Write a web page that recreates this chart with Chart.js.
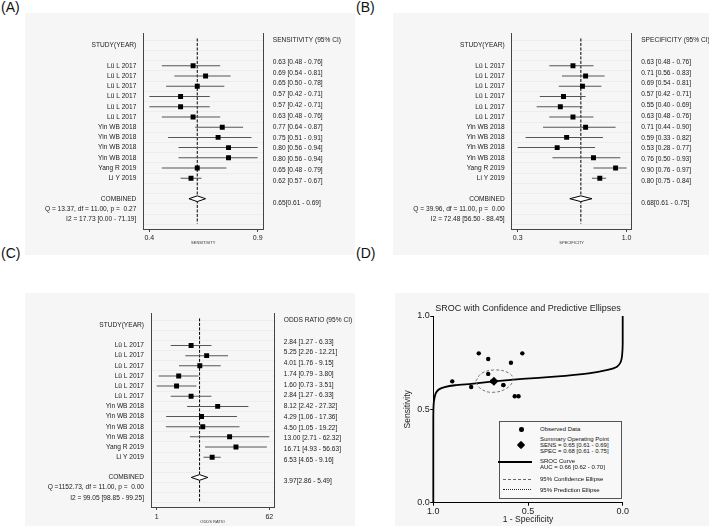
<!DOCTYPE html>
<html><head><meta charset="utf-8">
<script src="https://cdn.jsdelivr.net/npm/chart.js@4.4.0/dist/chart.umd.min.js"></script>
<style>
html,body{margin:0;padding:0;background:#fff;}
body{width:709px;height:526px;position:relative;overflow:hidden;font-family:"Liberation Sans",Arial,sans-serif;color:#111;}
.plab{position:absolute;font-size:14px;line-height:14px;color:#111;font-family:"Liberation Sans",Arial,sans-serif;}
canvas{position:absolute;background:#f6f6f6;}
.lg{position:absolute;font-size:6px;line-height:6px;color:#111;white-space:nowrap;font-family:"Liberation Sans",Arial,sans-serif;}
.mk{position:absolute;}
</style></head><body>
<div class="plab" style="left:1px;top:0px">(A)</div>
<div class="plab" style="left:356px;top:0px">(B)</div>
<div class="plab" style="left:1px;top:246px">(C)</div>
<div class="plab" style="left:356px;top:246px">(D)</div>
<canvas id="cA" width="330" height="242" style="left:25px;top:13px;width:330px;height:242px"></canvas>
<canvas id="cB" width="316" height="242" style="left:393px;top:13px;width:316px;height:242px"></canvas>
<canvas id="cC" width="330" height="233" style="left:25px;top:293px;width:330px;height:233px"></canvas>
<canvas id="cD" width="314" height="233" style="left:395px;top:293px;width:314px;height:233px"></canvas>

<div id="leg" style="position:absolute;left:499px;top:421px;width:121px;height:76px;border:1px solid #555;background:#f8f8f8;"></div>
<div class="mk" style="left:519px;top:427px;width:4.5px;height:4.5px;border-radius:50%;background:#000"></div>
<div class="lg" style="left:540px;top:426px">Observed Data</div>
<div class="mk" style="left:518px;top:441.5px;width:6px;height:6px;background:#000;transform:rotate(45deg);border-radius:1px"></div>
<div class="lg" style="left:540px;top:436px">Summary Operating Point<br>SENS = 0.65 [0.61 - 0.69]<br>SPEC = 0.68 [0.61 - 0.75]</div>
<div class="mk" style="left:498px;top:461px;width:34px;height:0;border-top:2px solid #000"></div>
<div class="lg" style="left:540px;top:457.5px">SROC Curve<br>AUC = 0.66 [0.62 - 0.70]</div>
<div class="mk" style="left:503px;top:478.5px;width:28px;height:0;border-top:1px dashed #666"></div>
<div class="lg" style="left:540px;top:476px">95% Confidence Ellipse</div>
<div class="mk" style="left:503px;top:489px;width:28px;height:0;border-top:1px dotted #222"></div>
<div class="lg" style="left:540px;top:486.7px">95% Prediction Ellipse</div>

<script>
// ---------- data ----------
const studies = ["Lü L 2017","Lü L 2017","Lü L 2017","Lü L 2017","Lü L 2017","Lü L 2017",
  "Yin WB 2018","Yin WB 2018","Yin WB 2018","Yin WB 2018","Yang R 2019","Li Y 2019"];
const sensEst = [0.63,0.69,0.65,0.57,0.57,0.63,0.77,0.75,0.80,0.80,0.65,0.62];
const sensLo  = [0.48,0.54,0.50,0.42,0.42,0.48,0.64,0.51,0.56,0.56,0.48,0.57];
const sensHi  = [0.76,0.81,0.78,0.71,0.71,0.76,0.87,0.91,0.94,0.94,0.79,0.67];
const specEst = [0.63,0.71,0.69,0.57,0.55,0.63,0.71,0.59,0.53,0.76,0.90,0.80];
const specLo  = [0.48,0.56,0.54,0.42,0.40,0.48,0.44,0.33,0.28,0.50,0.76,0.75];
const specHi  = [0.76,0.83,0.81,0.71,0.69,0.76,0.90,0.82,0.77,0.93,0.97,0.84];
const orEst   = [2.84,5.25,4.01,1.74,1.60,2.84,8.12,4.29,4.50,13.00,16.71,6.53];
const orLo    = [1.27,2.26,1.76,0.79,0.73,1.27,2.42,1.06,1.05,2.71,4.93,4.65];
const orHi    = [6.33,12.21,9.15,3.80,3.51,6.33,27.32,17.36,19.22,62.32,56.63,9.16];
const sensPooled = [0.65,0.61,0.69];
const specPooled = [0.68,0.61,0.75];
const orPooled   = [3.97,2.86,5.49];
const sensStats = ["Q = 13.37, df = 11.00, p =  0.27","I2 = 17.73 [0.00 - 71.19]"];
const specStats = ["Q = 39.96, df = 11.00, p =  0.00","I2 = 72.48 [56.50 - 88.45]"];
const orStats   = ["Q =1152.73, df = 11.00, p =  0.00","I2 = 99.05 [98.85 - 99.25]"];
const sensTickLabels = ["0.4","0.9"];
const specTickLabels = ["0.3","1.0"];
const orTickLabels   = ["1","62"];
const rocTicks = [0, 0.5, 1];
// SROC curve (specificity, sensitivity)
const srocSpec = [1.0,1.0,0.998,0.993,0.985,0.97,0.94,0.885,0.80,0.68,0.53,0.36,0.18,0.08,0.03,0.01,0.003,0.0,0.0];
const srocSens = [0.0,0.45,0.53,0.565,0.59,0.607,0.619,0.629,0.637,0.650,0.663,0.675,0.693,0.711,0.728,0.755,0.79,0.85,1.0];
// 95% confidence ellipse
const ellSpec = [0.776,0.745,0.674,0.604,0.578,0.612,0.692,0.753,0.776];
const ellSens = [0.651,0.693,0.711,0.696,0.661,0.613,0.591,0.613,0.651];

const FONT = "'Liberation Sans', Arial, sans-serif";
Chart.defaults.font.family = FONT;

function forest(id, o) {
  const leftLabels = ["STUDY(YEAR)", "", ...studies, "", "COMBINED", o.stats[0], o.stats[1]];
  const f = v => v.toFixed(2);
  const rightLabels = [o.header, "", ...o.est.map((e,i)=>`${f(e)} [${f(o.lo[i])} - ${f(o.hi[i])}]`), "",
    `${f(o.pooled[0])}[${f(o.pooled[1])} - ${f(o.pooled[2])}]`, "", ""];
  const tickVals = [Math.min(...o.lo), Math.max(...o.hi)];
  const combRow = 15, dh = 0.28;
  const rowTicks = s => { s.ticks = leftLabels.map((_, i) => ({value: i})); };
  new Chart(document.getElementById(id), {
    type: 'scatter',
    data: { datasets: [
      { type: 'scatter', data: o.est.map((e,i)=>({x:e, y:i+2})), pointStyle: 'rect', pointRadius: 3.5,
        backgroundColor: '#000', borderColor: '#000', borderWidth: 0, order: 0 },
      { type: 'line', data: [{x:o.pooled[1],y:combRow},{x:o.pooled[0],y:combRow-dh},{x:o.pooled[2],y:combRow},{x:o.pooled[0],y:combRow+dh},{x:o.pooled[1],y:combRow}],
        borderColor: '#000', borderWidth: 1, backgroundColor: '#fff', fill: 'shape', pointRadius: 0, tension: 0, order: 1 },
      { type: 'bar', indexAxis: 'y', data: o.est.map((e,i)=>({x:[o.lo[i], o.hi[i]], y:i+2})),
        barThickness: 1, inflateAmount: 0, backgroundColor: '#555', borderWidth: 0, order: 2 },
      { type: 'line', data: [{x:o.pooled[0], y:o.yMin},{x:o.pooled[0], y:o.yMax}], borderColor: '#000', borderWidth: 1,
        borderDash: [3, 1.5], pointRadius: 0, order: 3 }
    ]},
    options: {
      responsive: false, animation: false, devicePixelRatio: 1, events: [],
      layout: { padding: { top: o.padTop, left: 0, right: 0, bottom: 0 } },
      plugins: { legend: { display: false }, tooltip: { enabled: false } },
      scales: {
        x: { type: o.log ? 'logarithmic' : 'linear', min: o.xMin, max: o.xMax, position: 'bottom',
          afterBuildTicks: s => { s.ticks = tickVals.map(v => ({value: v})); },
          afterFit: s => { s.height = o.xH; },
          ticks: { autoSkip: false, maxRotation: 0, padding: o.tickPad, font: {size: 7}, color: '#222',
            callback: (v, i) => o.tickLabels[i] },
          grid: { display: true, drawOnChartArea: false, drawTicks: true, tickLength: 3, color: '#444' },
          border: { display: true, color: '#444', width: 1 },
          title: { display: true, text: o.axisTitle, font: {size: 4}, color: '#333', padding: {top: 0, bottom: o.titlePad} }
        },
        y: { type: 'linear', reverse: true, min: o.yMin, max: o.yMax, position: 'left',
          afterBuildTicks: rowTicks, afterFit: s => { s.width = o.leftW; },
          ticks: { autoSkip: false, padding: 7, font: {size: 6.6}, color: '#1a1a1a', callback: v => leftLabels[v] },
          grid: { display: true, drawTicks: false, color: '#ededed' },
          border: { display: true, color: '#444', width: 1 }
        },
        y2: { type: 'linear', reverse: true, min: o.yMin, max: o.yMax, position: 'right',
          afterBuildTicks: rowTicks, afterFit: s => { s.width = o.rightW; },
          ticks: { autoSkip: false, padding: 9.5, font: {size: 6.6}, color: '#1a1a1a', callback: v => rightLabels[v] },
          grid: { display: false, drawTicks: false },
          border: { display: true, color: '#444', width: 1 }
        }
      }
    }
  });
}

forest('cA', { est: sensEst, lo: sensLo, hi: sensHi, pooled: sensPooled, stats: sensStats,
  header: "SENSITIVITY (95% CI)", axisTitle: "SENSITIVITY", tickLabels: sensTickLabels, log: false,
  xMin: 0.391, xMax: 0.967, yMin: -0.68, yMax: 17.43, leftW: 118.3, rightW: 91.7, xH: 26, padTop: 20, tickPad: 1.8, titlePad: 9.6 });
forest('cB', { est: specEst, lo: specLo, hi: specHi, pooled: specPooled, stats: specStats,
  header: "SPECIFICITY (95% CI)", axisTitle: "SPECIFICITY", tickLabels: specTickLabels, log: false,
  xMin: 0.242, xMax: 1.002, yMin: -0.68, yMax: 17.43, leftW: 118.7, rightW: 77.3, xH: 26, padTop: 20, tickPad: 1.8, titlePad: 9.6 });
forest('cC', { est: orEst, lo: orLo, hi: orHi, pooled: orPooled, stats: orStats,
  header: "ODDS RATIO (95% CI)", axisTitle: "ODDS RATIO", tickLabels: orTickLabels, log: true,
  xMin: 0.583, xMax: 76, yMin: -0.67, yMax: 17.38, leftW: 126, rightW: 80.7, xH: 19, padTop: 20, tickPad: 2.5, titlePad: 1.6 });

// ---------- SROC ----------
new Chart(document.getElementById('cD'), {
  type: 'scatter',
  data: { datasets: [
    { type: 'scatter', data: [{x: specPooled[0], y: sensPooled[0]}], pointStyle: 'rectRot', pointRadius: 4.5,
      backgroundColor: '#000', borderColor: '#000', borderWidth: 0, order: 0 },
    { type: 'scatter', data: sensEst.map((s,i)=>({x: specEst[i], y: s})), pointStyle: 'circle', pointRadius: 2.2,
      backgroundColor: '#000', borderColor: '#000', borderWidth: 0, order: 1 },
    { type: 'line', data: ellSpec.map((x,i)=>({x, y: ellSens[i]})), borderColor: '#777', borderWidth: 1,
      borderDash: [3, 2], pointRadius: 0, tension: 0.4, order: 2 },
    { type: 'line', data: srocSpec.map((x,i)=>({x, y: srocSens[i]})), borderColor: '#000', borderWidth: 1.8,
      pointRadius: 0, tension: 0.2, clip: false, order: 3 }
  ]},
  options: {
    responsive: false, animation: false, devicePixelRatio: 1, events: [],
    layout: { padding: { top: 0, left: 0, right: 86.3, bottom: 0 } },
    plugins: {
      legend: { display: false }, tooltip: { enabled: false },
      title: { display: true, fullSize: false, text: 'SROC with Confidence and Predictive Ellipses',
        font: {size: 9, weight: 'normal'}, color: '#222', padding: {top: 10.6, bottom: 1.6} }
    },
    scales: {
      x: { type: 'linear', reverse: true, min: 0, max: 1,
        afterBuildTicks: s => { s.ticks = rocTicks.map(v => ({value: v})); },
        afterFit: s => { s.height = 23.3; },
        ticks: { autoSkip: false, maxRotation: 0, padding: 1, font: {size: 9, lineHeight: 1}, color: '#222', callback: v => v.toFixed(1) },
        grid: { display: true, drawOnChartArea: false, drawTicks: true, tickLength: 3, color: '#000' },
        border: { display: true, color: '#000', width: 1 },
        title: { display: true, text: '1 - Specificity', font: {size: 8.5, lineHeight: 1}, color: '#222', padding: {top: 0, bottom: 1.75} }
      },
      y: { type: 'linear', min: 0, max: 1,
        afterBuildTicks: s => { s.ticks = rocTicks.map(v => ({value: v})); },
        afterFit: s => { s.width = 38.3; },
        ticks: { autoSkip: false, padding: 0.5, font: {size: 9}, color: '#222', callback: v => v.toFixed(1) },
        grid: { display: true, drawOnChartArea: false, drawTicks: true, tickLength: 3, color: '#000' },
        border: { display: true, color: '#000', width: 1 },
        title: { display: true, text: 'Sensitivity', font: {size: 8.5}, color: '#222', padding: {top: 7.9, bottom: 0} }
      }
    }
  }
});
</script>
</body></html>
